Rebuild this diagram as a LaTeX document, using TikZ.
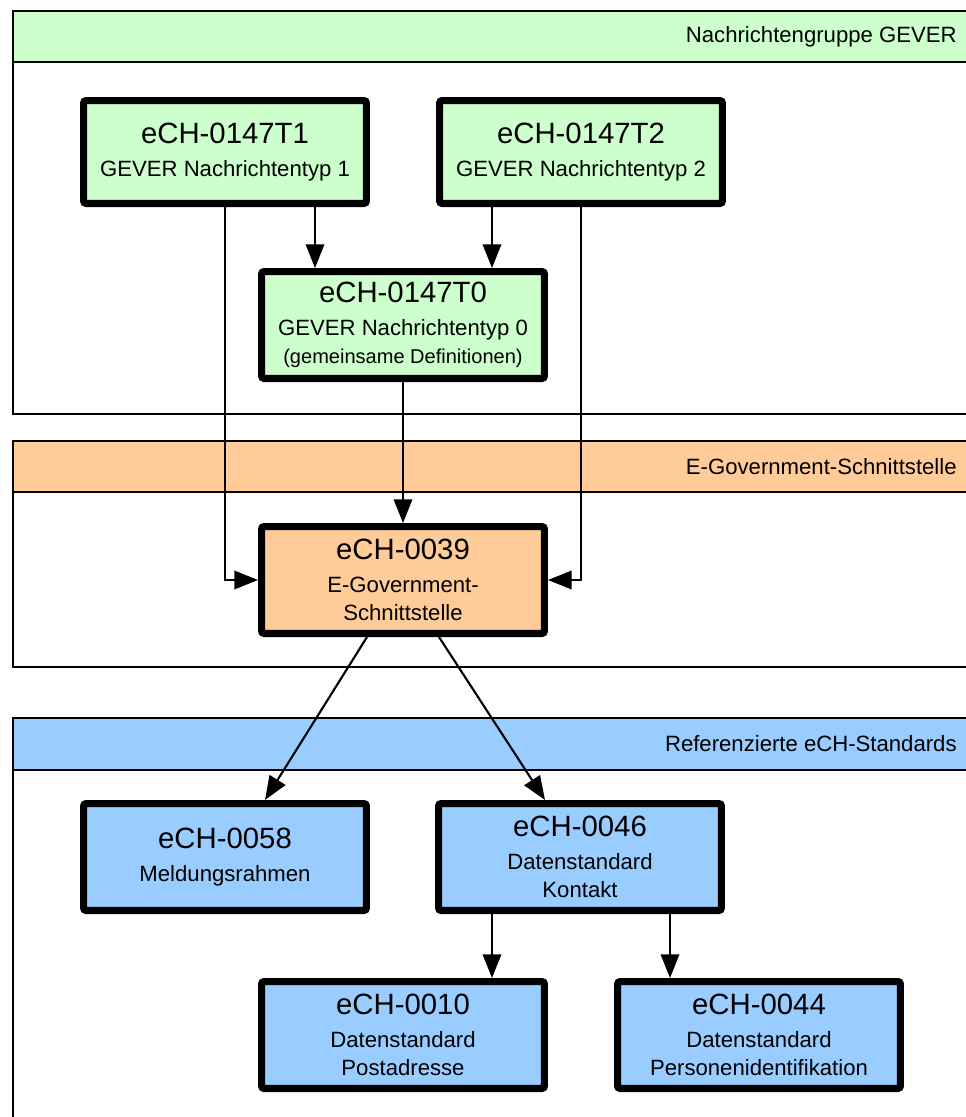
\documentclass[tikz,border=0pt]{standalone}
\usepackage{fontspec}
\setmainfont{Liberation Sans}
\usetikzlibrary{arrows.meta,positioning}

\definecolor{gevergreen}{HTML}{CCFFCC}
\definecolor{egovorange}{HTML}{FFCC99}
\definecolor{refblue}{HTML}{99CCFF}

\newcommand{\ttlfont}{\fontsize{16.7}{20}\selectfont}
\newcommand{\smlfont}{\fontsize{11.4}{14}\selectfont}

\begin{document}
\begin{tikzpicture}[x=0.02cm,y=-0.02cm,
    grpline/.style={draw, line width=1.2pt},
    grplabel/.style={anchor=east, font=\fontsize{12.6}{15}\selectfont, inner sep=0pt},
    stdbox/.style={draw, line width=4pt, rounded corners=1.5pt, align=center,
      minimum width=5.66cm, minimum height=2.14cm, inner sep=2pt,
      font=\fontsize{12.6}{16}\selectfont},
    arr/.style={line width=1.2pt, -{Triangle[length=13.5pt,width=10.5pt]}}]
      \clip (0,0) rectangle (966,1117);
      % groups
      \draw[grpline, fill=gevergreen] (13,11) rectangle (1000,62);
      \draw[grpline] (13,62) rectangle (1000,414);
      \draw[grpline, fill=egovorange] (13,441) rectangle (1000,492);
      \draw[grpline] (13,492) rectangle (1000,667);
      \draw[grpline, fill=refblue] (13,718) rectangle (1000,770);
      \draw[grpline] (13,770) rectangle (1000,1140);
      \node[grplabel] (hgever) at (957,37) {Nachrichtengruppe GEVER};
      \node[grplabel] (hegov) at (957,467) {E-Government-Schnittstelle};
      \node[grplabel] (href) at (957,744) {Referenzierte eCH-Standards};
      % standards
      \node[stdbox, fill=gevergreen, minimum height=2.06cm] at (225,152) (T1) {{\ttlfont eCH-0147T1}\\[3pt]GEVER Nachrichtentyp 1};
      \node[stdbox, fill=gevergreen, minimum height=2.06cm] at (581,152) (T2) {{\ttlfont eCH-0147T2}\\[3pt]GEVER Nachrichtentyp 2};
      \node[stdbox, fill=gevergreen] at (403,325) (T0) {{\ttlfont eCH-0147T0}\\[3pt]GEVER Nachrichtentyp 0\\{\smlfont (gemeinsame Definitionen)}};
      \node[stdbox, fill=egovorange] at (403,580) (E39) {{\ttlfont eCH-0039}\\[3pt]E-Government-\\Schnittstelle};
      \node[stdbox, fill=refblue] at (225,857) (E58) {{\ttlfont eCH-0058}\\[3pt]Meldungsrahmen};
      \node[stdbox, fill=refblue] at (580,857) (E46) {{\ttlfont eCH-0046}\\[3pt]Datenstandard\\Kontakt};
      \node[stdbox, fill=refblue] at (403,1035) (E10) {{\ttlfont eCH-0010}\\[3pt]Datenstandard\\Postadresse};
      \node[stdbox, fill=refblue] at (759,1035) (E44) {{\ttlfont eCH-0044}\\[3pt]Datenstandard\\Personenidentifikation};
      % dependencies
      \coordinate (t0l) at ([xshift=-1.76cm]T0.north);
      \coordinate (t0r) at ([xshift=1.78cm]T0.north);
      \coordinate (e10in) at ([xshift=1.78cm]E10.north);
      \coordinate (e44in) at ([xshift=-1.78cm]E44.north);
      \draw[arr] (T1.south -| t0l) -- (t0l);
      \draw[arr] (T2.south -| t0r) -- (t0r);
      \draw[arr] (T1.south) |- (E39.west);
      \draw[arr] (T2.south) |- (E39.east);
      \draw[arr] (T0) -- (E39);
      \draw[arr] ([xshift=-0.72cm]E39.south) -- ([xshift=0.8cm]E58.north);
      \draw[arr] ([xshift=0.72cm]E39.south) -- ([xshift=-0.7cm]E46.north);
      \draw[arr] (E46.south -| e10in) -- (e10in);
      \draw[arr] (E46.south -| e44in) -- (e44in);
\end{tikzpicture}
\end{document}
